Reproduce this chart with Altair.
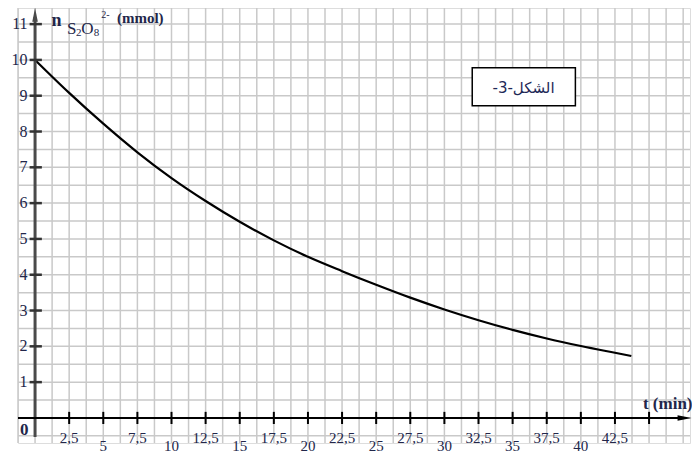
import altair as alt
import pandas as pd

# ---- data ----
t_min = [0, 2.5, 5, 7.5, 10, 12.5, 15, 17.5, 20, 22.5, 25, 27.5, 30, 32.5, 35, 37.5, 40, 42.5, 43.7]
n_mmol = [10, 9.08, 8.22, 7.42, 6.70, 6.06, 5.48, 4.96, 4.50, 4.10, 3.72, 3.36, 3.03, 2.73, 2.46, 2.22, 2.01, 1.82, 1.73]

x_tick_values = [2.5, 5, 7.5, 10, 12.5, 15, 17.5, 20, 22.5, 25, 27.5, 30, 32.5, 35, 37.5, 40, 42.5, 45]
x_label_values = [2.5, 5, 7.5, 10, 12.5, 15, 17.5, 20, 22.5, 25, 27.5, 30, 32.5, 35, 37.5, 40, 42.5]
x_label_texts = ["2,5", "5", "7,5", "10", "12,5", "15", "17,5", "20", "22,5", "25",
                 "27,5", "30", "32,5", "35", "37,5", "40", "42,5"]
y_tick_values = [1, 2, 3, 4, 5, 6, 7, 8, 9, 10, 11]
y_label_texts = ["1", "2", "3", "4", "5", "6", "7", "8", "9", "10", "11"]

grid_t = [-1.25 + 1.25 * i for i in range(40)]
grid_n = [-0.5 + 0.5 * i for i in range(24)]

curve_df = pd.DataFrame({"t": t_min, "n": n_mmol})
xt_df = pd.DataFrame({"v": x_tick_values})
xl_df = pd.DataFrame({"v": x_label_values, "lab": x_label_texts})
yt_df = pd.DataFrame({"v": y_tick_values, "lab": y_label_texts})
gx_df = pd.DataFrame({"g": grid_t})
gy_df = pd.DataFrame({"g": grid_n})
one = pd.DataFrame({"k": [0]})

xs = alt.Scale(domain=[-1.25, 48.0], nice=False, zero=False)
ys = alt.Scale(domain=[-0.7, 11.45], nice=False, zero=False)

SERIF = "Liberation Serif, Times New Roman, serif"
LABEL_COLOR = "#22264a"


def X(field=None, datum=None):
    if datum is not None:
        return alt.X(datum=datum, type="quantitative", scale=xs, axis=None)
    return alt.X(field, type="quantitative", scale=xs, axis=None)


def Y(field=None, datum=None):
    if datum is not None:
        return alt.Y(datum=datum, type="quantitative", scale=ys, axis=None)
    return alt.Y(field, type="quantitative", scale=ys, axis=None)


grid_v = alt.Chart(gx_df).mark_rule(color="#c9c9c9", strokeWidth=1.5).encode(x=X("g"))
grid_h = alt.Chart(gy_df).mark_rule(color="#c9c9c9", strokeWidth=1.5).encode(y=Y("g"))

curve = alt.Chart(curve_df).mark_line(color="black", strokeWidth=2.2, interpolate="monotone").encode(
    x=X("t"), y=Y("n"))

y_axis_line = alt.Chart(one).mark_rule(color="#4a4a4a", strokeWidth=3).encode(
    x=X(datum=0), y=Y(datum=-0.53), y2=alt.Y2(datum=11.2))
x_axis_line = alt.Chart(one).mark_rule(color="black", strokeWidth=2).encode(
    x=X(datum=-1.25), x2=alt.X2(datum=47.6), y=Y(datum=0))

arrow_up = alt.Chart(one).mark_point(shape="M0,-1L0.4,1L-0.4,1Z", filled=True, size=196,
                                     color="#4a4a4a", opacity=1).encode(
    x=X(datum=0), y=Y(datum=11.26))
arrow_right = alt.Chart(one).mark_point(shape="M1,0L-1,0.4L-1,-0.4Z", filled=True, size=196,
                                        color="black", opacity=1).encode(
    x=X(datum=47.6), y=Y(datum=0))

x_ticks = alt.Chart(xt_df).mark_rule(color="black", strokeWidth=2).encode(
    x=X("v"), y=Y(datum=-0.17), y2=alt.Y2(datum=0.17))
y_ticks = alt.Chart(yt_df).mark_rule(color="#333333", strokeWidth=2.5).encode(
    y=Y("v"), x=X(datum=-0.4), x2=alt.X2(datum=0.5))

y_labels = alt.Chart(yt_df).mark_text(align="right", baseline="middle", font=SERIF, fontSize=16,
                                      color=LABEL_COLOR).encode(
    x=X(datum=-0.55), y=Y("v"), text="lab:N")

x_labels = alt.Chart(xl_df).transform_calculate(
    ly="datum.v % 5 == 0 ? -0.77 : -0.56"
).mark_text(align="center", baseline="middle", font=SERIF, fontSize=15, color=LABEL_COLOR).encode(
    x=X("v"), y=Y("ly"), text="lab:N")

zero_label = alt.Chart(one).mark_text(text="0", align="center", baseline="middle", font=SERIF,
                                      fontSize=17, fontWeight="bold", color=LABEL_COLOR).encode(
    x=X(datum=-0.8), y=Y(datum=-0.34))


def txt(s, t, n, size, weight="normal", align="left", baseline="alphabetic"):
    return alt.Chart(one).mark_text(text=s, align=align, baseline=baseline, font=SERIF,
                                    fontSize=size, fontWeight=weight, color=LABEL_COLOR).encode(
        x=X(datum=t), y=Y(datum=n))


title_parts = [
    txt("n", 1.2, 10.94, 18, "bold"),
    txt("S", 2.35, 10.72, 17),
    txt("2", 3.0, 10.68, 11),
    txt("O", 3.38, 10.72, 17),
    txt("8", 4.3, 10.66, 11),
    txt("2-", 4.85, 11.18, 10),
    txt("(mmol)", 6.0, 11.04, 15, "bold"),
    txt("t (min)", 44.55, 0.25, 17, "bold"),
]

box = alt.Chart(one).mark_rect(fill="white", stroke="black", strokeWidth=1.5).encode(
    x=X(datum=32.04), x2=alt.X2(datum=39.6), y=Y(datum=8.72), y2=alt.Y2(datum=9.78))
box_text = alt.Chart(one).mark_text(text="الشكل-3-\u200f", align="center", baseline="middle",
                                    font="DejaVu Sans", fontSize=15, color="#1e2856").encode(
    x=X(datum=35.8), y=Y(datum=9.22))

chart = alt.layer(
    grid_v, grid_h, curve, y_axis_line, x_axis_line, arrow_up, arrow_right,
    x_ticks, y_ticks, y_labels, x_labels, zero_label, *title_parts, box, box_text
).properties(
    width=672, height=435,
    padding={"left": 10, "top": 0, "right": 2, "bottom": 10},
    autosize="none",
).configure_view(stroke=None).configure(background="white")

chart.save("out.html", embed_options={"renderer": "svg", "actions": False})
